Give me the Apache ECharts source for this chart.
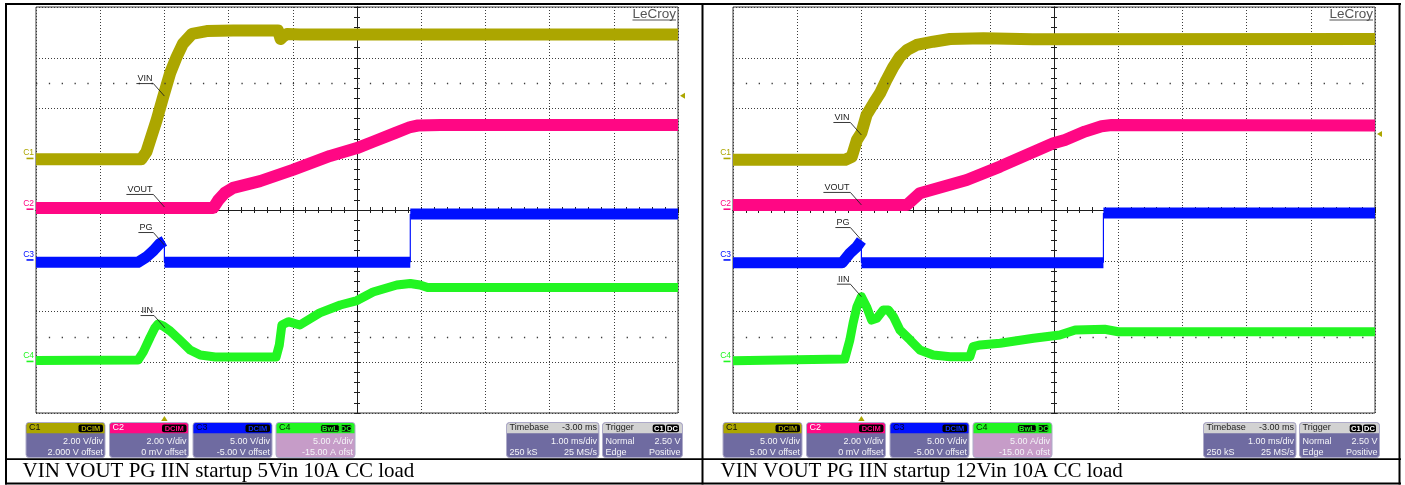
<!DOCTYPE html>
<html><head><meta charset="utf-8">
<script src="https://cdn.jsdelivr.net/npm/echarts/dist/echarts.min.js"></script>
<style>html,body{margin:0;padding:0;background:#fff;}#c{width:1405px;height:485px;}</style>
</head><body><div id="c"></div>
<script>
// ================= DATA =================
const panelCaptions = ['VIN VOUT PG IIN startup 5Vin 10A CC load', 'VIN VOUT PG IIN startup 12Vin 10A CC load'];
const channelNames = ['C1', 'C2', 'C3', 'C4'];
const traceNames = ['VIN', 'VOUT', 'PG', 'IIN'];
const timeRangeMs = [-2, 8];
const voltsPerDiv5 = [2, 2, 5, 5];
const offsets5 = [2, 0, -5, -15];
const voltsPerDiv12 = [5, 2, 5, 5];
const offsets12 = [5, 0, -5, -15];
const scaleText5 = ['2.00 V/div', '2.00 V/div', '5.00 V/div', '5.00 A/div'];
const offsetText5 = ['2.000 V offset', '0 mV offset', '-5.00 V offset', '-15.00 A ofst'];
const scaleText12 = ['5.00 V/div', '2.00 V/div', '5.00 V/div', '5.00 A/div'];
const offsetText12 = ['5.00 V offset', '0 mV offset', '-5.00 V offset', '-15.00 A ofst'];
const couplingBadges = [['DCIM'], ['DCIM'], ['DCIM'], ['BwL', 'DC']];
const timebaseText = ['Timebase', '-3.00 ms', '1.00 ms/div', '250 kS', '25 MS/s'];
const triggerText = ['Trigger', 'C1', 'DC', 'Normal', '2.50 V', 'Edge', 'Positive'];
const triggerLevel = 2.5;   // on C1
const triggerTime = 0;

// ---- 5 Vin panel (time in ms, values in V / A) ----
const vin5T = [-2, -0.36, -0.33, -0.28, -0.22, -0.12, -0.02, 0.09, 0.19, 0.29, 0.43, 0.66, 1.07, 1.77, 1.81, 1.85, 1.91, 2.11, 8];
const vin5V = [0.0, 0.0, 0.05, 0.29, 0.76, 1.55, 2.45, 3.40, 4.03, 4.56, 4.94, 5.05, 5.07, 5.07, 4.74, 4.84, 4.94, 4.92, 4.92];
const vout5T = [-2, 0.76, 0.84, 0.94, 1.07, 1.49, 2.0, 2.58, 3.0, 3.25, 3.59, 3.83, 3.95, 4.3, 8];
const vout5V = [0.08, 0.08, 0.39, 0.67, 0.87, 1.14, 1.58, 2.13, 2.44, 2.69, 3.03, 3.27, 3.33, 3.35, 3.35];
const pg5T = [-2, -0.41, -0.28, -0.17, -0.07, 0.0, 0.0, 3.83, 3.83, 8];
const pg5V = [-0.15, -0.15, 0.37, 1.0, 1.70, 1.95, -0.15, -0.15, 4.6, 4.6];
const iin5T = [-2, -0.41, -0.33, -0.22, -0.15, -0.10, -0.02, 0.09, 0.24, 0.40, 0.56, 0.79, 1.74, 1.79, 1.83, 1.93, 2.11, 2.42, 2.74, 3.0, 3.25, 3.62, 3.83, 3.98, 4.1, 8];
const iin5V = [0.17, 0.22, 1.0, 2.49, 3.37, 3.77, 3.57, 3.08, 2.19, 1.21, 0.71, 0.52, 0.52, 1.7, 3.67, 4.0, 3.67, 4.86, 5.64, 6.08, 6.92, 7.61, 7.76, 7.61, 7.36, 7.36];
const labelAnchors5 = [[0, 2.49], [0, 0.12], [0, 1.55], [0.01, 3.37]];

// ---- 12 Vin panel ----
const vin12T = [-2, -0.25, -0.15, -0.07, 0.0, 0.08, 0.19, 0.29, 0.39, 0.50, 0.60, 0.71, 0.86, 1.12, 1.38, 1.90, 2.67, 8];
const vin12V = [-0.05, -0.05, 0.25, 1.90, 2.60, 4.36, 5.51, 6.50, 7.81, 9.12, 10.10, 10.76, 11.26, 11.58, 11.85, 11.92, 11.82, 11.85];
const vout12T = [-2, 0.71, 0.91, 1.64, 2.16, 2.99, 3.17, 3.48, 3.74, 3.90, 8];
const vout12V = [0.2, 0.2, 0.66, 1.18, 1.71, 2.63, 2.76, 3.09, 3.30, 3.35, 3.33];
const pg12T = [-2, -0.30, -0.18, -0.07, 0.0, 0.0, 3.77, 3.77, 8];
const pg12V = [-0.2, -0.2, 0.73, 1.38, 2.0, -0.2, -0.2, 4.7, 4.7];
const iin12T = [-2, -0.26, -0.18, -0.13, -0.07, 0.0, 0.08, 0.16, 0.24, 0.34, 0.42, 0.50, 0.60, 0.76, 0.91, 1.12, 1.38, 1.69, 1.74, 1.85, 2.16, 2.68, 3.09, 3.33, 3.79, 4.0, 8];
const iin12V = [0.15, 0.32, 2.19, 3.84, 5.47, 6.46, 5.47, 4.16, 4.33, 5.15, 5.15, 4.49, 3.18, 2.19, 1.21, 0.71, 0.55, 0.55, 1.53, 1.70, 1.87, 2.36, 2.68, 3.18, 3.25, 3.01, 3.01];
const labelAnchors12 = [[0, 2.39], [0, 0.2], [0, 2.04], [0, 6.46]];

// ================= STYLE / LAYOUT =================
const FONT = '"Liberation Sans", Arial, sans-serif';
const SERIF = '"Liberation Serif", "Times New Roman", serif';
const traceColors = ['#aca600', '#ff0784', '#0010ff', '#22f522'];
const traceWidths = [12, 12, 11, 9];
const GRID_LEFT = [36, 733], GRID_TOP = 7, GRID_W = 642, GRID_H = 406;
const PANEL_DX = [0, 697];

const panels = [
  {T: [vin5T, vout5T, pg5T, iin5T], V: [vin5V, vout5V, pg5V, iin5V], vpd: voltsPerDiv5, off: offsets5, scale: scaleText5, offs: offsetText5, anchors: labelAnchors5},
  {T: [vin12T, vout12T, pg12T, iin12T], V: [vin12V, vout12V, pg12V, iin12V], vpd: voltsPerDiv12, off: offsets12, scale: scaleText12, offs: offsetText12, anchors: labelAnchors12}
];

function splitTrace(T, V) {
  const thick = [], thin = [];
  for (let i = 0; i < T.length; i++) {
    if (i > 0 && T[i] === T[i - 1]) {
      thick.push([T[i], null]);
      thin.push([T[i - 1], V[i - 1]], [T[i], V[i]], [T[i], null]);
    }
    thick.push([T[i], V[i]]);
  }
  return {thick, thin};
}

const chart = echarts.init(document.getElementById('c'), null, {renderer: 'canvas', width: 1405, height: 485});
const grid = [], xAxis = [], yAxis = [], series = [];
const tickStyle = {color: '#1e1e1e', width: 1};
panels.forEach((P, p) => {
  grid.push({left: GRID_LEFT[p], top: GRID_TOP, width: GRID_W, height: GRID_H, show: true,
    borderColor: '#3a3a3a', borderWidth: 1, backgroundColor: '#ffffff', containLabel: false, outerBoundsMode: 'none'});
  const divX = (inside, split) => ({type: 'value', gridIndex: p, min: -5, max: 5, interval: 1, position: 'bottom',
    axisLine: {show: true, onZero: true, onZeroAxisIndex: p * 6, lineStyle: tickStyle},
    axisTick: {show: true, inside: inside, length: 3, lineStyle: tickStyle},
    minorTick: {show: true, splitNumber: 5, length: 3, lineStyle: tickStyle},
    axisLabel: {show: false}, splitLine: {show: split, lineStyle: {color: '#3c3c3c', type: [1, 2], width: 1}}});
  const divY = (inside, split) => ({type: 'value', gridIndex: p, min: -4, max: 4, interval: 1, position: 'left',
    axisLine: {show: true, onZero: true, onZeroAxisIndex: p * 3, lineStyle: tickStyle},
    axisTick: {show: true, inside: inside, length: 3, lineStyle: tickStyle},
    minorTick: {show: true, splitNumber: 5, length: 3, lineStyle: tickStyle},
    axisLabel: {show: false}, splitLine: {show: split, lineStyle: {color: '#3c3c3c', type: [1, 2], width: 1}}});
  xAxis.push(divX(false, true), divX(true, false),
    {type: 'value', gridIndex: p, min: timeRangeMs[0], max: timeRangeMs[1], show: false});
  yAxis.push(divY(false, true), divY(true, false));
  for (let c = 0; c < 4; c++) {
    yAxis.push({type: 'value', gridIndex: p, min: -4 * P.vpd[c] - P.off[c], max: 4 * P.vpd[c] - P.off[c], show: false});
  }
  // sparse dotted reference lines at +/-2.5 div
  series.push({type: 'line', xAxisIndex: p * 3, yAxisIndex: p * 6, data: [], silent: true, symbol: 'none',
    markLine: {silent: true, symbol: ['none', 'none'], label: {show: false}, animation: false,
      lineStyle: {color: '#3a3a3a', type: [1.3, 11.54], width: 1.3},
      data: [{yAxis: 2.5}, {yAxis: -2.5}]}});
  for (let c = 0; c < 4; c++) {
    const s = splitTrace(P.T[c], P.V[c]);
    series.push({type: 'line', name: traceNames[c], xAxisIndex: p * 3 + 2, yAxisIndex: p * 6 + 2 + c,
      data: s.thick, showSymbol: false, symbol: 'none', connectNulls: false, silent: true,
      lineStyle: {color: traceColors[c], width: traceWidths[c], cap: 'butt', join: 'round'}, z: 3 + c});
    if (s.thin.length) {
      series.push({type: 'line', xAxisIndex: p * 3 + 2, yAxisIndex: p * 6 + 2 + c,
        data: s.thin, showSymbol: false, symbol: 'none', connectNulls: false, silent: true,
        lineStyle: {color: traceColors[c], width: 1.2}, z: 3 + c});
    }
  }
});

chart.setOption({animation: false, backgroundColor: '#ffffff', grid, xAxis, yAxis, series});

// ================= GRAPHICS (frame, boxes, annotations) =================
const G = [];
function rect(x, y, w, h, fill, extra) { G.push(Object.assign({type: 'rect', shape: {x, y, width: w, height: h}, style: {fill}, silent: true, z: 100}, extra || {})); }
function text(t, x, y, opts) {
  G.push({type: 'text', x, y, silent: true, z: 110, style: Object.assign({text: t, font: '9px ' + FONT, fill: '#fff', align: 'left', verticalAlign: 'middle'}, opts || {})});
}
function line(x1, y1, x2, y2, stroke, w) { G.push({type: 'line', shape: {x1, y1, x2, y2}, style: {stroke, lineWidth: w || 1}, silent: true, z: 110}); }

// table frame
rect(5, 3, 1396, 2, '#000');
rect(5, 482.5, 1396, 2, '#000');
rect(5, 3, 2, 481.5, '#000');
rect(1398.5, 3, 2, 481.5, '#000');
rect(701.5, 3, 2, 481.5, '#000');
rect(5, 458.3, 1396, 1.7, '#000');
// captions
text(panelCaptions[0], 22.5, 471.3, {font: '21px ' + SERIF, fill: '#000'});
text(panelCaptions[1], 720.5, 471.3, {font: '21px ' + SERIF, fill: '#000'});

const BODY = '#6f6ba1', BODY4 = '#c69cc8', BOX_STROKE = '#aeabc9';
const hdrColors = ['#aca600', '#ff0a84', '#0010ff', '#22f522'];
const hdrLabelColors = ['#111', '#fff', '#000033', '#002200'];
const chBoxX = [26, 109.5, 193, 276];
const BOX_Y = 422.5, BOX_H = 35, HDR_H = 10.3;

function badge(t, x, w, color, border) {
  G.push({type: 'rect', shape: {x, y: 424.6, width: w, height: 7.6, r: 2}, style: {fill: '#000', stroke: border || null, lineWidth: border ? 1 : 0}, silent: true, z: 105});
  text(t, x + w / 2, 428.5, {align: 'center', font: 'bold 7.5px ' + FONT, fill: color});
}

const measureCtx = document.createElement('canvas').getContext('2d');
function textWidth(t, font) { measureCtx.font = font; return measureCtx.measureText(t).width; }

panels.forEach((P, p) => {
  const dx = PANEL_DX[p];
  for (let c = 0; c < 4; c++) {
    const x = chBoxX[c] + dx;
    G.push({type: 'rect', shape: {x, y: BOX_Y, width: 79, height: BOX_H, r: 3}, style: {fill: c === 3 ? BODY4 : BODY, stroke: BOX_STROKE, lineWidth: 1}, silent: true, z: 100});
    G.push({type: 'rect', shape: {x: x + 0.5, y: BOX_Y + 0.5, width: 78, height: HDR_H, r: [2.5, 2.5, 0, 0]}, style: {fill: hdrColors[c]}, silent: true, z: 101});
    text(channelNames[c], x + 3, 428, {fill: hdrLabelColors[c]});
    if (c < 3) badge(couplingBadges[c][0], x + 52.5, 24.5, hdrColors[c] === '#0010ff' ? '#1030ff' : hdrColors[c]);
    else { badge(couplingBadges[c][0], x + 44.7, 18.6, '#22f522', '#22f522'); badge(couplingBadges[c][1], x + 64.7, 11, '#22f522', '#22f522'); }
    text(P.scale[c], x + 77, 441.6, {align: 'right', fill: '#f4f4f8'});
    text(P.offs[c], x + 77, 452.4, {align: 'right', fill: '#f4f4f8'});
  }
  // timebase
  let x = 506.5 + dx;
  G.push({type: 'rect', shape: {x, y: BOX_Y, width: 92.5, height: BOX_H, r: 3}, style: {fill: BODY, stroke: BOX_STROKE, lineWidth: 1}, silent: true, z: 100});
  G.push({type: 'rect', shape: {x: x + 0.5, y: BOX_Y + 0.5, width: 91.5, height: HDR_H, r: [2.5, 2.5, 0, 0]}, style: {fill: '#d2d2d2'}, silent: true, z: 101});
  text(timebaseText[0], x + 3, 428, {fill: '#222'});
  text(timebaseText[1], x + 90.5, 428, {fill: '#222', align: 'right'});
  text(timebaseText[2], x + 90.5, 441.6, {align: 'right', fill: '#f4f4f8'});
  text(timebaseText[3], x + 3, 452.4, {fill: '#f4f4f8'});
  text(timebaseText[4], x + 90.5, 452.4, {align: 'right', fill: '#f4f4f8'});
  // trigger
  x = 602.5 + dx;
  G.push({type: 'rect', shape: {x, y: BOX_Y, width: 80, height: BOX_H, r: 3}, style: {fill: BODY, stroke: BOX_STROKE, lineWidth: 1}, silent: true, z: 100});
  G.push({type: 'rect', shape: {x: x + 0.5, y: BOX_Y + 0.5, width: 79, height: HDR_H, r: [2.5, 2.5, 0, 0]}, style: {fill: '#d2d2d2'}, silent: true, z: 101});
  text(triggerText[0], x + 3, 428, {fill: '#222'});
  badge(triggerText[1], x + 50.2, 12.3, '#fff');
  badge(triggerText[2], x + 63.5, 13, '#fff');
  text(triggerText[3], x + 3, 441.6, {fill: '#f4f4f8'});
  text(triggerText[4], x + 78, 441.6, {align: 'right', fill: '#f4f4f8'});
  text(triggerText[5], x + 3, 452.4, {fill: '#f4f4f8'});
  text(triggerText[6], x + 78, 452.4, {align: 'right', fill: '#f4f4f8'});

  // LeCroy logo
  const lx = GRID_LEFT[p] + GRID_W - 2;
  const logoFont = '13.5px ' + FONT;
  const lw = textWidth('LeCroy', logoFont);
  text('LeCroy', lx, 14.2, {align: 'right', font: logoFont, fill: '#555'});
  line(lx - lw, 20, lx, 20, '#555', 1);

  // channel ground markers, trace labels
  for (let c = 0; c < 4; c++) {
    const finder = {xAxisIndex: p * 3 + 2, yAxisIndex: p * 6 + 2 + c};
    const zero = chart.convertToPixel(finder, [timeRangeMs[0], 0]);
    const gx = GRID_LEFT[p];
    text(channelNames[c], gx - 2, zero[1] - 6.5, {align: 'right', font: '8.5px ' + FONT, fill: traceColors[c]});
    line(gx - 9.5, zero[1] - 0.8, gx - 2.5, zero[1] - 0.8, traceColors[c], 1.6);
    const a = chart.convertToPixel(finder, P.anchors[c]);
    const ex = a[0] - 11, ey = a[1] - 12.5;
    const w = textWidth(traceNames[c], '9px ' + FONT) + 2;
    line(a[0], a[1], ex, ey, '#222', 0.9);
    line(ex - w, ey, ex, ey, '#222', 0.9);
    text(traceNames[c], ex - 1, ey - 5, {align: 'right', fill: '#222'});
  }
  // trigger markers
  const f1 = {xAxisIndex: p * 3 + 2, yAxisIndex: p * 6 + 2};
  const tl = chart.convertToPixel(f1, [timeRangeMs[1], triggerLevel]);
  G.push({type: 'polygon', shape: {points: [[tl[0] + 2, tl[1]], [tl[0] + 7, tl[1] - 3], [tl[0] + 7, tl[1] + 3]]}, style: {fill: '#aca600'}, silent: true, z: 110});
  const tt = chart.convertToPixel(f1, [triggerTime, 0]);
  const by = GRID_TOP + GRID_H;
  G.push({type: 'polygon', shape: {points: [[tt[0], by + 3], [tt[0] - 3.2, by + 8], [tt[0] + 3.2, by + 8]]}, style: {fill: '#aca600'}, silent: true, z: 110});
});

chart.setOption({graphic: G});
</script></body></html>
